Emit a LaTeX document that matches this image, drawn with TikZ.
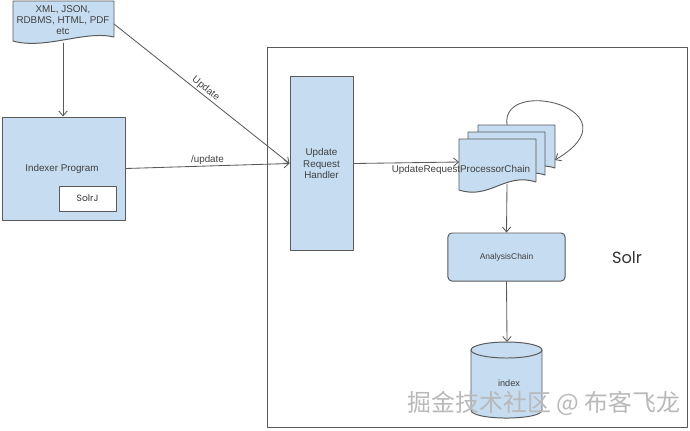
\documentclass[tikz,border=0pt]{standalone}
\usepackage{fontspec}
\setmainfont{Liberation Sans}
\newfontfamily\cjkfont{Noto Sans CJK SC}
\newfontfamily\handfont{Poppins}
\usepackage{tikz}
\usetikzlibrary{arrows.meta}
\definecolor{boxblue}{RGB}{197,220,241}
\definecolor{edgegray}{RGB}{90,90,90}
\tikzset{
  box/.style={draw=edgegray, fill=boxblue, line width=0.7pt, inner sep=0pt, align=center, text=black!75, font=\fontsize{7}{8.2}\selectfont},
  plain/.style={draw=edgegray, fill=white, line width=0.7pt, inner sep=0pt},
  arr/.style={->, draw=edgegray, line width=0.6pt},
  lbl/.style={font=\fontsize{7}{7.8}\selectfont, text=black!75, inner sep=1pt},
}

\begin{document}
\begin{tikzpicture}[x=0.025cm, y=-0.025cm, >={Straight Barb[length=3.5pt,width=6pt]}, line cap=round, line join=round]
		\useasboundingbox (0,0) rectangle (690,430);
		
		% Solr container
		\node[plain, minimum width=10.475cm, minimum height=9.475cm] (solr) at (477.5,237.5) {};
		\node[font=\handfont\fontsize{11.5}{13}\selectfont, text=black!80] (solrlbl) at (627,258) {Solr};
		
		% input documents
		\filldraw[draw=edgegray, fill=boxblue, line width=0.7pt] (13,1) -- (114,1) -- (114,37) .. controls (85,30) and (45,50) .. (13,41) -- cycle;
		\node[lbl, align=center] (src) at (63,20) {XML, JSON,\\RDBMS, HTML, PDF\\etc};
		\coordinate (srcbot) at (63,43);
		\coordinate (srcout) at (114,24);
		
		% indexer
		\node[box, minimum width=3.05cm, minimum height=2.575cm] (idx) at (64,168.5) {};
		\node[lbl] (idxlbl) at (62,169) {Indexer Program};
		\node[plain, minimum width=1.425cm, minimum height=0.625cm, text=black!80, font=\handfont\fontsize{6.5}{8}\selectfont] (solrj) at (87.5,198.5) {SolrJ};
		
		% handler
		\node[box, minimum width=1.575cm, minimum height=4.325cm] (urh) at (321.5,163.5) {Update\\Request\\Handler};
		
		% processor chain stack
		\foreach \dx/\dy in {19/-14, 9/-7, 0/0}
			\filldraw[draw=edgegray, fill=boxblue, line width=0.7pt, shift={(\dx,\dy)}] (459,139) -- (536,139) -- (536,182) .. controls (505,172) and (490,200) .. (459,190) -- cycle;
		\node[lbl] (chain) at (461,170) {UpdateRequestProcessorChain};
		\coordinate (chainin) at (459,162);
		\coordinate (chainbot) at (507,184);
		\coordinate (looptop) at (507,125);
		\coordinate (loopin) at (555,160);
		
		% analysis
		\node[box, rounded corners=2.8pt, minimum width=2.925cm, minimum height=1.2cm, font=\fontsize{6}{7}\selectfont] (ana) at (506.5,257) {AnalysisChain};
		
		% index
		\filldraw[draw=edgegray, fill=boxblue, line width=0.7pt] (471,350) -- (471,410) .. controls (471,420.7) and (542,420.7) .. (542,410) -- (542,350) -- cycle;
		\filldraw[draw=edgegray, fill=boxblue, line width=0.7pt] (506.5,350) ellipse [x radius=0.8875cm, y radius=0.2cm];
		\node[lbl, font=\fontsize{6.5}{8}\selectfont] (index) at (509,383) {index};
		\coordinate (idxtop) at (507,342);
		
		% connectors
		\draw[arr] (srcbot) -- (srcbot |- idx.north);
		\draw[arr] (srcout) -- node[lbl, midway, above, sloped] {Update} (urh.west);
		\draw[arr] (idx.east) -- node[lbl, midway, above] {/update} (urh.west);
		\draw[arr] (urh.east) -- (chainin);
		\draw[arr] (looptop) .. controls (500,75) and (640,110) .. (loopin);
		\draw[arr] (chainbot) -- (ana.north);
		\draw[arr] (ana.south) -- (idxtop);
		
		\node[font=\cjkfont\fontsize{17}{20}\selectfont, text=gray!55] (wm) at (544,403) {掘金技术社区 @ 布客飞龙};
	\end{tikzpicture}
\end{document}
